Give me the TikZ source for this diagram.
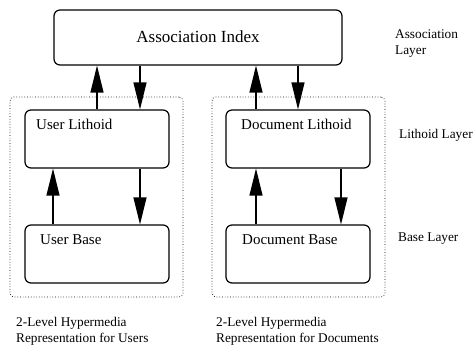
\documentclass[tikz,border=0pt]{standalone}
\usepackage{fontspec}
\setmainfont{Liberation Serif}
\usetikzlibrary{arrows.meta}
\begin{document}
\begin{tikzpicture}[x=1pt,y=-1pt,
  box/.style={draw,line width=1.2pt,rounded corners=6pt,inner sep=0pt},
  group/.style={draw,dotted,line width=0.7pt,rounded corners=4pt,inner sep=0pt},
  arr/.style={line width=1.3pt,-{Triangle[length=27pt,width=13pt]}},
  lbl/.style={anchor=base west,inner sep=0pt,font=\fontsize{15}{18}\selectfont},
  side/.style={anchor=base west,inner sep=0pt,font=\fontsize{13.3}{16}\selectfont,align=left},
]
\useasboundingbox (0,0) rectangle (473,345);
\node[group,minimum width=173pt,minimum height=200pt] (GL) at (96.5,197) {};
\node[group,minimum width=173pt,minimum height=200pt] (GR) at (298.5,197) {};
\node[box,minimum width=288pt,minimum height=55pt] (AI) at (198,37.5) {};
\node[anchor=base,inner sep=0pt,font=\fontsize{17}{20}\selectfont] (AIt) at (198,43) {Association Index};
\node[box,minimum width=144pt,minimum height=58pt] (UL) at (97,139) {};
\node[box,minimum width=144pt,minimum height=58pt] (UB) at (97,254) {};
\node[box,minimum width=144pt,minimum height=58pt] (DL) at (298,139) {};
\node[box,minimum width=144pt,minimum height=58pt] (DB) at (298,254) {};
\node[lbl] (ULt) at (36,129) {User Lithoid};
\node[lbl] (UBt) at (40,244) {User Base};
\node[lbl] (DLt) at (241,129) {Document Lithoid};
\node[lbl] (DBt) at (242,244) {Document Base};
\node[side] (AL1) at (395,38) {Association};
\node[side] (AL2) at (395,55) {Layer};
\node[side] (LL) at (399,138) {Lithoid Layer};
\node[side] (BL) at (398,241) {Base Layer};
\node[side] (B1) at (16,326) {2-Level Hypermedia};
\node[side] (B2) at (16,342) {Representation for Users};
\node[side] (B3) at (216,326) {2-Level Hypermedia};
\node[side] (B4) at (216,342) {Representation for Documents};
\coordinate (x53) at (53,0);
\coordinate (x97) at (97,0);
\coordinate (x140) at (140,0);
\coordinate (x256) at (256,0);
\coordinate (x298) at (298,0);
\coordinate (x341) at (341,0);
\draw[arr] (UL.north -| x97) -- (AI.south -| x97);
\draw[arr] (AI.south -| x140) -- (UL.north -| x140);
\draw[arr] (DL.north -| x256) -- (AI.south -| x256);
\draw[arr] (AI.south -| x298) -- (DL.north -| x298);
\draw[arr] (UB.north -| x53) -- (UL.south -| x53);
\draw[arr] (UL.south -| x140) -- (UB.north -| x140);
\draw[arr] (DB.north -| x256) -- (DL.south -| x256);
\draw[arr] (DL.south -| x341) -- (DB.north -| x341);
\end{tikzpicture}
\end{document}
